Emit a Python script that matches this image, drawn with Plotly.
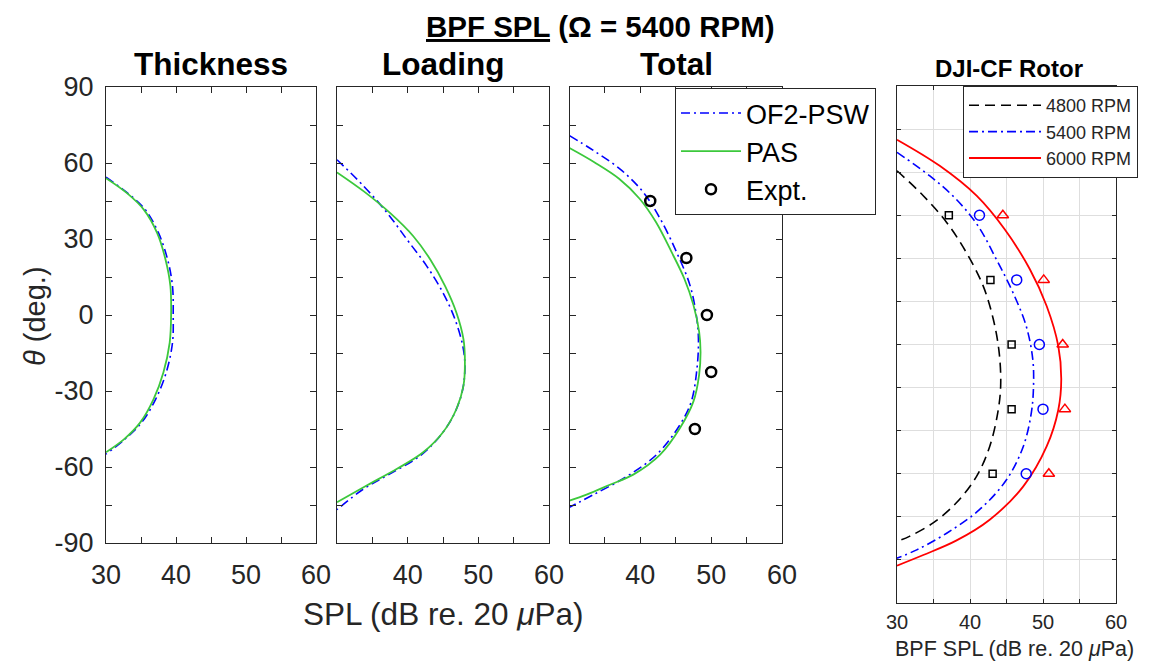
import plotly.graph_objects as go

# ---------------- data ----------------
# Thickness panel
thk_ofs_theta = [54.4, 48.1, 41.6, 32.4, 21.9, 11.4, 0.0, -10.9, -22.7, -33.2, -42.4, -49.0, -54.9]
thk_ofs_spl = [30.0, 33.1, 35.6, 37.5, 38.8, 39.5, 39.6, 39.5, 38.6, 37.1, 35.1, 32.7, 30.0]
thk_pas_theta = [54.0, 48.1, 41.6, 32.4, 21.9, 11.4, 0.0, -10.9, -22.7, -33.2, -42.4, -49.0, -54.2]
thk_pas_spl = [30.0, 33.0, 35.4, 37.3, 38.5, 39.2, 39.3, 39.1, 38.2, 36.8, 34.9, 32.6, 30.0]

# Loading panel
ld_ofs_theta = [61.3, 50.8, 40.3, 29.8, 19.3, 8.8, -1.7, -12.2, -20.1, -29.2, -38.4, -47.0, -55.5, -62.7, -68.6, -76.8]
ld_ofs_spl = [30.0, 33.8, 37.1, 39.9, 42.7, 45.0, 46.7, 47.8, 48.1, 47.8, 46.7, 44.8, 41.8, 37.5, 33.8, 30.0]
ld_pas_theta = [56.3, 48.8, 40.3, 31.1, 21.9, 11.4, 0.9, -9.6, -18.7, -27.9, -37.1, -46.3, -54.2, -60.7, -67.3, -73.9]
ld_pas_spl = [30.0, 33.8, 37.5, 40.8, 43.2, 45.3, 46.9, 47.9, 48.1, 47.9, 46.9, 45.0, 42.2, 38.5, 34.2, 30.0]

# Total panel
tot_ofs_theta = [70.8, 64.9, 57.7, 48.5, 38.0, 24.9, 11.8, 0.0, -9.2, -21.0, -34.1, -43.3, -55.1, -63.7, -70.9, -75.9]
tot_ofs_spl = [30.0, 33.4, 37.1, 40.4, 42.8, 45.1, 47.0, 47.9, 48.2, 48.0, 47.2, 45.6, 42.3, 38.1, 33.4, 30.0]
tot_pas_theta = [65.9, 60.3, 53.8, 45.9, 36.7, 24.9, 14.4, 3.9, -6.6, -14.5, -23.6, -34.1, -44.6, -55.1, -63.0, -67.0, -70.9, -73.3]
tot_pas_spl = [30.0, 33.5, 37.0, 39.9, 42.2, 44.4, 46.2, 47.5, 48.3, 48.5, 48.3, 47.5, 45.6, 42.8, 39.0, 35.7, 32.4, 30.0]
expt_theta = [45.0, 22.5, 0.0, -22.5, -45.0]
expt_spl = [41.4, 46.5, 49.4, 50.0, 47.7]

# DJI-CF rotor panel
r4800_theta = [60.5, 51.8, 42.5, 32.0, 20.4, 8.7, -2.9, -14.5, -23.8, -35.5, -45.9, -55.2, -62.2, -66.8, -68.6]
r4800_spl = [30.0, 33.6, 36.8, 39.5, 41.8, 43.2, 44.0, 44.2, 43.8, 42.7, 40.9, 38.1, 34.9, 31.7, 30.0]
r5400_theta = [66.9, 58.7, 50.6, 41.3, 29.7, 18.0, 6.4, -5.2, -14.5, -23.8, -35.5, -47.1, -57.5, -65.7, -71.5, -74.4]
r5400_spl = [30.0, 34.5, 38.1, 41.1, 43.6, 45.9, 47.7, 48.6, 48.7, 48.4, 47.3, 45.0, 41.3, 36.8, 32.7, 30.0]
r6000_theta = [71.3, 62.2, 51.8, 40.1, 26.2, 13.4, -0.6, -12.2, -22.7, -35.5, -49.4, -61.0, -68.3, -73.3, -77.0]
r6000_spl = [30.0, 35.85, 40.9, 44.75, 48.2, 50.5, 52.1, 52.5, 52.1, 50.5, 47.3, 42.7, 38.1, 33.6, 30.0]
rotor_expt_theta = [45.0, 22.5, 0.0, -22.5, -45.0]
e4800_spl = [37.1, 42.8, 45.7, 45.7, 43.1]
e5400_spl = [41.3, 46.4, 49.5, 50.0, 47.7]
e6000_spl = [44.5, 50.1, 52.7, 53.0, 50.8]

panel_titles = ["Thickness", "Loading", "Total"]
x_ticks = [30, 35, 40, 45, 50, 55, 60]
x_labels_first = ["30", "", "40", "", "50", "", "60"]
x_labels_other = ["", "", "40", "", "50", "", "60"]
y_ticks = list(range(-90, 91, 15))
y_labels = ["-90", "", "-60", "", "-30", "", "0", "", "30", "", "60", "", "90"]

# ---------------- styling ----------------
OFF = 8                      # page body margin of the browser
W, H = 1165 - 2 * OFF, 671 - 2 * OFF
FONT = "Liberation Sans, Arial, sans-serif"
AX = "#262626"
BLUE = "#0000FF"
GREEN = "#3CC83C"
RED = "#FF0000"
DASHDOT = "9px,4px,2px,4px"


def fx(p):
    return (p - OFF) / W


def fy(p):
    return 1 - (p - OFF) / H


def px_x(a, b):
    return [fx(a), fx(b)]


def px_y(top, bottom):
    return [fy(bottom), fy(top)]


fig = go.Figure()

panels = [
    (thk_ofs_spl, thk_ofs_theta, thk_pas_spl, thk_pas_theta),
    (ld_ofs_spl, ld_ofs_theta, ld_pas_spl, ld_pas_theta),
    (tot_ofs_spl, tot_ofs_theta, tot_pas_spl, tot_pas_theta),
]
for i, (xo, yo, xp, yp) in enumerate(panels):
    sfx = "" if i == 0 else str(i + 1)
    show = i == 2
    fig.add_trace(go.Scatter(x=xo, y=yo, mode="lines", name="OF2-PSW",
                             line=dict(color=BLUE, width=1.6, dash=DASHDOT, shape="spline"),
                             xaxis="x" + sfx, yaxis="y" + sfx, showlegend=show,
                             legendgroup="a", legend="legend"))
    fig.add_trace(go.Scatter(x=xp, y=yp, mode="lines", name="PAS",
                             line=dict(color=GREEN, width=1.8, shape="spline"),
                             xaxis="x" + sfx, yaxis="y" + sfx, showlegend=show,
                             legendgroup="b", legend="legend"))

fig.add_trace(go.Scatter(x=expt_spl, y=expt_theta, mode="markers", name="Expt.",
                         marker=dict(symbol="circle-open", size=10, color="black",
                                     line=dict(width=2.5, color="black")),
                         xaxis="x3", yaxis="y3", legendgroup="c", legend="legend"))

# rotor panel
fig.add_trace(go.Scatter(x=r4800_spl, y=r4800_theta, mode="lines", name="4800 RPM",
                         line=dict(color="black", width=1.6, dash="10px,6px", shape="spline"),
                         xaxis="x4", yaxis="y4", legend="legend2", legendgroup="d"))
fig.add_trace(go.Scatter(x=r5400_spl, y=r5400_theta, mode="lines", name="5400 RPM",
                         line=dict(color=BLUE, width=1.6, dash=DASHDOT, shape="spline"),
                         xaxis="x4", yaxis="y4", legend="legend2", legendgroup="e"))
fig.add_trace(go.Scatter(x=r6000_spl, y=r6000_theta, mode="lines", name="6000 RPM",
                         line=dict(color=RED, width=1.8, shape="spline"),
                         xaxis="x4", yaxis="y4", legend="legend2", legendgroup="f"))
fig.add_trace(go.Scatter(x=e4800_spl, y=rotor_expt_theta, mode="markers", showlegend=False,
                         marker=dict(symbol="square-open", size=7, color="black",
                                     line=dict(width=1.5, color="black")),
                         xaxis="x4", yaxis="y4"))
fig.add_trace(go.Scatter(x=e5400_spl, y=rotor_expt_theta, mode="markers", showlegend=False,
                         marker=dict(symbol="circle-open", size=10, color=BLUE,
                                     line=dict(width=1.5, color=BLUE)),
                         xaxis="x4", yaxis="y4"))
fig.add_trace(go.Scatter(x=e6000_spl, y=rotor_expt_theta, mode="markers", showlegend=False,
                         marker=dict(symbol="triangle-up-open", size=10, color=RED,
                                     line=dict(width=1.5, color=RED)),
                         xaxis="x4", yaxis="y4"))

common_ax = dict(showline=True, linecolor=AX, linewidth=1, mirror="ticks", ticks="inside",
                 ticklen=6, tickcolor=AX, zeroline=False, showgrid=False, automargin=False,
                 tickfont=dict(family=FONT, size=27, color=AX), fixedrange=True)

x_domains = [px_x(106, 316), px_x(337, 549), px_x(569.5, 782)]
y_dom = px_y(87, 543)
layout = dict(width=W, height=H, margin=dict(l=0, r=0, t=0, b=0, pad=0, autoexpand=False),
              paper_bgcolor="white", plot_bgcolor="white", font=dict(family=FONT, color=AX))
for i in range(3):
    sfx = "" if i == 0 else str(i + 1)
    layout["xaxis" + sfx] = dict(common_ax, domain=x_domains[i], range=[30, 60],
                                 tickvals=x_ticks,
                                 ticktext=x_labels_first if i == 0 else x_labels_other,
                                 anchor="y" + sfx, ticklabelstandoff=8)
    layout["yaxis" + sfx] = dict(common_ax, domain=y_dom, range=[-90, 90], tickvals=y_ticks,
                                 ticktext=y_labels if i == 0 else [""] * len(y_ticks),
                                 anchor="x" + sfx, ticklabelstandoff=6)

grid_ax = dict(common_ax, showgrid=True, gridcolor="#DEDEDE", gridwidth=1)
layout["xaxis4"] = dict(grid_ax, domain=px_x(897, 1116), range=[30, 60], tickvals=x_ticks,
                        ticktext=x_labels_first, anchor="y4", ticklen=4,
                        tickfont=dict(family=FONT, size=20, color=AX), ticklabelstandoff=1)
layout["yaxis4"] = dict(grid_ax, domain=px_y(86, 603), range=[-90, 90], tickvals=y_ticks,
                        ticktext=[""] * len(y_ticks), anchor="x4", ticklen=4)

layout["legend"] = dict(x=fx(675), y=fy(88), xanchor="left", yanchor="top",
                        bgcolor="white", bordercolor=AX, borderwidth=1,
                        font=dict(family=FONT, size=27, color="black"),
                        traceorder="grouped", tracegroupgap=0, itemwidth=60)
layout["legend2"] = dict(x=fx(963), y=fy(86), xanchor="left", yanchor="top",
                         bgcolor="white", bordercolor=AX, borderwidth=1,
                         font=dict(family=FONT, size=18, color=AX),
                         traceorder="grouped", tracegroupgap=0, itemwidth=72)
fig.update_layout(**layout)


def ann(text, xpx, ypx, size, bold=False, angle=0, color="black"):
    fig.add_annotation(text=("<b>%s</b>" % text) if bold else text,
                       x=fx(xpx), y=fy(ypx), xref="paper", yref="paper",
                       showarrow=False, textangle=angle, xanchor="center", yanchor="middle",
                       font=dict(family=FONT, size=size, color=color))


ann('<span style="text-decoration:underline">BPF SPL</span> (Ω = 5400 RPM)', 600, 26, 29.5, bold=True)
for t, xc in zip(panel_titles, [211, 443, 676]):
    ann(t, xc, 64, 31.5, bold=True)
ann("DJI-CF Rotor", 1009, 68, 24, bold=True)
ann("SPL (dB re. 20 <i>μ</i>Pa)", 443, 614, 31.5, color=AX)
ann("<i>θ</i> (deg.)", 35, 316, 29, angle=-90, color=AX)
ann("BPF SPL (dB re. 20 <i>μ</i>Pa)", 1014, 648.5, 21.5, color=AX)

fig.write_html("out.html")
